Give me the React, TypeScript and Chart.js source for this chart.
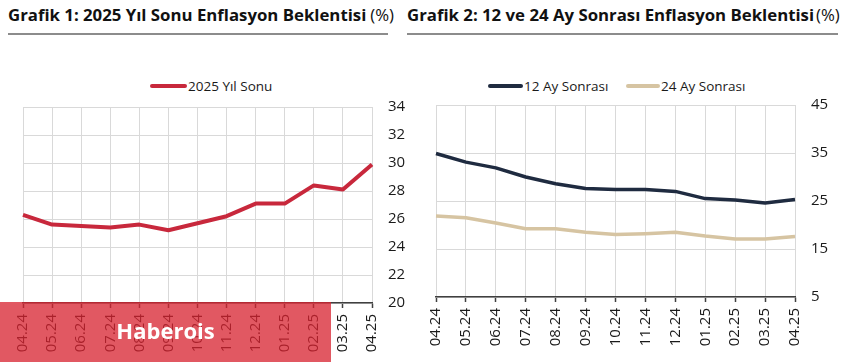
import React, { useEffect, useRef } from "react";
import { Chart, registerables } from "chart.js";

Chart.register(...registerables);

const months = ["04.24", "05.24", "06.24", "07.24", "08.24", "09.24", "10.24", "11.24", "12.24", "01.25", "02.25", "03.25", "04.25"];
const yearEnd2025 = [26.3, 25.6, 25.5, 25.4, 25.6, 25.2, 25.7, 26.2, 27.1, 27.1, 28.4, 28.1, 29.9];
const ahead12 = [34.9, 33.1, 31.9, 30.0, 28.6, 27.6, 27.4, 27.4, 27.0, 25.5, 25.2, 24.6, 25.3];
const ahead24 = [21.9, 21.5, 20.4, 19.2, 19.2, 18.5, 18.0, 18.2, 18.5, 17.7, 17.1, 17.1, 17.6];
const yTicks1 = [20, 34, 2];
const yTicks2 = [5, 45, 10];

const FONT = "'Open Sans', 'Noto Sans', sans-serif";
const RED = "#c8283c";
const NAVY = "#1f2b40";
const TAN = "#d6c4a2";

function makeOptions(yMin: number, yMax: number, step: number, padL: number, padT: number, yW: number, xH: number): any {
  return {
    responsive: false,
    animation: false,
    events: [],
    layout: { padding: { left: padL, top: padT, right: 0, bottom: 0 } },
    plugins: { legend: { display: false }, tooltip: { enabled: false } },
    elements: { point: { radius: 0 }, line: { tension: 0, borderJoinStyle: "round", borderCapStyle: "butt" } },
    scales: {
      x: {
        offset: false,
        grid: { color: "#d9d9d9", lineWidth: 1, tickLength: 5, tickColor: "#404040", tickWidth: 1.5, drawOnChartArea: true },
        border: { display: true, color: "#404040", width: 1.5 },
        ticks: { autoSkip: false, maxRotation: 90, minRotation: 90, padding: 6, color: "#1a1a1a", font: { family: FONT, size: 15 } },
        afterFit: (s: any) => { s.height = xH; },
      },
      y: {
        position: "right",
        min: yMin,
        max: yMax,
        grid: { color: "#d9d9d9", lineWidth: 1, drawTicks: true, tickLength: 16, tickColor: "rgba(0,0,0,0)" },
        border: { display: false },
        ticks: { stepSize: step, padding: 0, color: "#1a1a1a", font: { family: FONT, size: 15 } },
        afterFit: (s: any) => { s.width = yW; },
      },
    },
  };
}

function ChartBox(props: { left: number; top: number; width: number; height: number; config: () => any }) {
  const ref = useRef<HTMLCanvasElement>(null);
  useEffect(() => {
    const c = new Chart(ref.current as HTMLCanvasElement, props.config());
    return () => c.destroy();
  }, []);
  return (
    <canvas
      ref={ref}
      width={props.width}
      height={props.height}
      style={{ position: "absolute", left: props.left, top: props.top, width: props.width, height: props.height }}
    />
  );
}

function LegendItem(props: { left: number; top: number; color: string; label: string; lineW: number }) {
  return (
    <div style={{ position: "absolute", left: props.left, top: props.top, display: "flex", alignItems: "center", whiteSpace: "nowrap" }}>
      <div style={{ width: props.lineW, height: 4, background: props.color, borderRadius: 2 }} />
      <span style={{ fontFamily: FONT, fontSize: 13.5, color: "#1a1a1a", marginLeft: 1, lineHeight: "18px" }}>{props.label}</span>
    </div>
  );
}

function Title(props: { left: number; width: number; bold: string; gap: number }) {
  return (
    <>
      <div style={{ position: "absolute", left: props.left, top: 4, fontFamily: FONT, fontSize: 16.8, color: "#111", whiteSpace: "nowrap", lineHeight: "22px" }}>
        <span style={{ fontWeight: 700 }}>{props.bold}</span>
        <span style={{ fontWeight: 400, marginLeft: props.gap }}>(%)</span>
      </div>
      <div style={{ position: "absolute", left: props.left, top: 33, width: props.width, height: 2, background: "#8c8c8c" }} />
    </>
  );
}

export default function App() {
  const cfg1 = () => ({
    type: "line",
    data: {
      labels: months,
      datasets: [{ label: "2025 Yıl Sonu", data: yearEnd2025, borderColor: RED, borderWidth: 4 }],
    },
    options: makeOptions(yTicks1[0], yTicks1[1], yTicks1[2], 23, 12, 38, 59),
  });
  const cfg2 = () => ({
    type: "line",
    data: {
      labels: months,
      datasets: [
        { label: "12 Ay Sonrası", data: ahead12, borderColor: NAVY, borderWidth: 3.5 },
        { label: "24 Ay Sonrası", data: ahead24, borderColor: TAN, borderWidth: 3.5 },
      ],
    },
    options: makeOptions(yTicks2[0], yTicks2[1], yTicks2[2], 26, 10, 56, 65),
  });
  return (
    <div style={{ position: "absolute", left: 0, top: 0, width: 851, height: 362, background: "#fff", overflow: "hidden" }}>
      <Title left={8} width={380} bold="Grafik 1: 2025 Yıl Sonu Enflasyon Beklentisi" gap={4} />
      <Title left={407} width={431} bold="Grafik 2: 12 ve 24 Ay Sonrası Enflasyon Beklentisi" gap={2} />
      <LegendItem left={150} top={77} color={RED} label="2025 Yıl Sonu" lineW={37} />
      <LegendItem left={488} top={77} color={NAVY} label="12 Ay Sonrası" lineW={35} />
      <LegendItem left={626} top={77} color={TAN} label="24 Ay Sonrası" lineW={34} />
      <ChartBox left={0} top={95} width={410} height={267} config={cfg1} />
      <ChartBox left={410} top={95} width={441} height={267} config={cfg2} />
      <div
        style={{
          position: "absolute", left: 0, top: 302, width: 331, height: 60,
          background: "rgba(215,35,48,0.76)", display: "flex", alignItems: "center", justifyContent: "center",
        }}
      >
        <span style={{ fontFamily: FONT, fontWeight: 700, fontSize: 22, color: "#fff", marginTop: -4 }}>Haberois</span>
      </div>
    </div>
  );
}
